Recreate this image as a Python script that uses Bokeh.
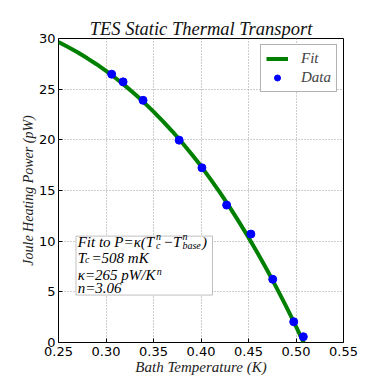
from bokeh.plotting import figure
from bokeh.models import Range1d, FixedTicker, Label, BoxAnnotation
from bokeh.embed import file_html
from bokeh.resources import INLINE

# ---- data ----
bath_temp = [0.306, 0.318, 0.339, 0.377, 0.401, 0.427, 0.4525, 0.4755, 0.4976, 0.5077]
joule_power = [26.48, 25.72, 23.9, 19.97, 17.24, 13.56, 10.7, 6.24, 2.05, 0.57]

fit_temp = [0.25, 0.26, 0.27, 0.28, 0.29, 0.30, 0.31, 0.32, 0.33, 0.34, 0.35, 0.36, 0.37,
            0.38, 0.39, 0.40, 0.41, 0.42, 0.43, 0.44, 0.45, 0.46, 0.47, 0.48, 0.49, 0.50, 0.508]
fit_power = [29.65, 29.16, 28.64, 28.07, 27.46, 26.80, 26.10, 25.35, 24.55, 23.70, 22.79, 21.83, 20.82,
             19.74, 18.61, 17.41, 16.12, 14.79, 13.39, 11.91, 10.37, 8.75, 7.08, 5.32, 3.49, 1.59, 0.0]

x_ticks = [0.25, 0.30, 0.35, 0.40, 0.45, 0.50, 0.55]
x_tick_labels = ["0.25", "0.30", "0.35", "0.40", "0.45", "0.50", "0.55"]
y_ticks = [0, 5, 10, 15, 20, 25, 30]

SERIF = "Liberation Serif"

p = figure(frame_width=285, frame_height=304,
           x_range=Range1d(0.25, 0.55), y_range=Range1d(0, 30),
           output_backend="svg", toolbar_location=None,
           min_border_left=58, min_border_top=38, min_border_right=30, min_border_bottom=10,
           title="TES Static Thermal Transport")

p.title.text_font = SERIF
p.title.text_font_style = "italic"
p.title.text_font_size = "18.5px"
p.title.align = "center"
p.title.standoff = 0
p.title.offset = 0
p.title.text_color = "#111111"

p.outline_line_color = "black"
p.outline_line_width = 1
p.outline_line_alpha = 1

for ax in (p.xaxis[0], p.yaxis[0]):
    ax.axis_line_color = None
    ax.major_tick_in = 4
    ax.major_tick_out = 0
    ax.major_tick_line_color = "black"
    ax.minor_tick_line_color = None
    ax.major_label_text_font = "DejaVu Sans"
    ax.major_label_text_font_size = "13px"
    ax.major_label_text_color = "black"
    ax.axis_label_text_font = SERIF
    ax.axis_label_text_font_style = "italic"
    ax.axis_label_text_color = "#222222"

p.xaxis.ticker = FixedTicker(ticks=x_ticks)
p.xaxis.major_label_overrides = {t: l for t, l in zip(x_ticks, x_tick_labels)}
p.yaxis.ticker = FixedTicker(ticks=y_ticks)
p.xaxis.axis_label = "Bath Temperature (K)"
p.yaxis.axis_label = "Joule Heating Power (pW)"
p.xaxis.axis_label_text_font_size = "15px"
p.yaxis.axis_label_text_font_size = "14px"
p.xaxis.major_label_standoff = 4
p.yaxis.major_label_standoff = 3
p.xaxis.axis_label_standoff = 0
p.yaxis.axis_label_standoff = 0

p.xgrid.ticker = FixedTicker(ticks=x_ticks)
p.ygrid.ticker = FixedTicker(ticks=y_ticks)
for g in (p.xgrid[0], p.ygrid[0]):
    g.grid_line_color = "#9a9a9a"
    g.grid_line_dash = "1 2"
    g.grid_line_width = 1

p.line(fit_temp, fit_power, line_color="green", line_width=4, line_join="round", legend_label="Fit")
p.scatter(bath_temp, joule_power, size=8, fill_color="blue", line_color="blue", legend_label="Data")

lg = p.legend[0]
lg.location = "top_right"
lg.margin = 6
lg.padding = 5
lg.spacing = 2
lg.glyph_width = 22
lg.glyph_height = 15
lg.label_height = 15
lg.label_standoff = 13
lg.label_text_font = SERIF
lg.label_text_font_style = "italic"
lg.label_text_font_size = "15px"
lg.border_line_color = "#666666"
lg.border_line_width = 1
lg.background_fill_alpha = 1

# ---- annotation box (lower left) ----
box_left, box_right, box_bottom, box_top = 0.2684, 0.4121, 4.68, 10.50
p.add_layout(BoxAnnotation(left=box_left, right=box_right, bottom=box_bottom, top=box_top,
                           fill_color="white", fill_alpha=1, line_color="#333333", line_width=1))

# (text, px right of box left, px below box top, font size)
pieces = [
    ("Fit to P=\u03ba(T", 1.7, 5.7, 15),
    ("c", 80.0, 9.0, 10),
    ("n", 80.0, 0.6, 10),
    ("\u2212T", 87.0, 5.7, 15),
    ("base", 106.5, 9.0, 10),
    ("n", 106.5, 0.6, 10),
    (")", 126.0, 5.7, 15),
    ("T", 1.7, 22.3, 15),
    ("c", 9.0, 23.5, 10),
    ("=508 mK", 15.5, 22.3, 15),
    ("\u03ba=265 pW/K", 1.7, 38.5, 15),
    ("n", 80.7, 35.0, 10),
    ("n=3.06", 1.7, 51.5, 15),
]
for txt, dx, dy, sz in pieces:
    p.add_layout(Label(x=box_left, y=box_top, x_offset=dx, y_offset=-dy, text=txt,
                       text_font=SERIF, text_font_style="italic", text_font_size=f"{sz}px",
                       text_baseline="middle", text_align="left", text_color="black"))

open("out.html", "w").write(file_html(p, INLINE))
